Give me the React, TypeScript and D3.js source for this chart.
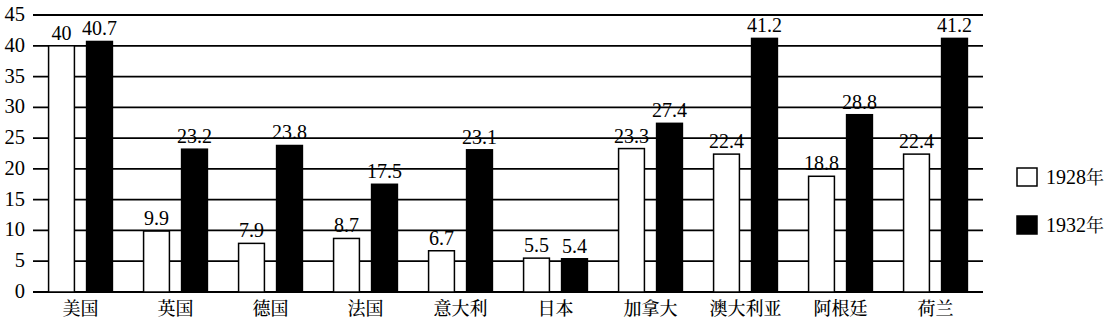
import React from "react";
import * as d3 from "d3";

const categories = ["美国", "英国", "德国", "法国", "意大利", "日本", "加拿大", "澳大利亚", "阿根廷", "荷兰"];
const series = ["1928年", "1932年"];
const values1928 = [40, 9.9, 7.9, 8.7, 6.7, 5.5, 23.3, 22.4, 18.8, 22.4];
const values1932 = [40.7, 23.2, 23.8, 17.5, 23.1, 5.4, 27.4, 41.2, 28.8, 41.2];
const yTicks = [0, 5, 10, 15, 20, 25, 30, 35, 40, 45];

const W = 1111;
const H = 323;
const left = 33;
const right = 983;
const top = 15;
const bottom = 292;

export default function App() {
  const x0 = d3.scaleBand<string>().domain(categories).range([left, right]).paddingInner(0).paddingOuter(0);
  const x1 = d3
    .scaleBand<string>()
    .domain(series)
    .range([0, x0.bandwidth()])
    .paddingInner(0.32)
    .paddingOuter(0.41);
  const y = d3.scaleLinear().domain([0, 45]).range([bottom, top]);
  const fills = ["#ffffff", "#000000"];
  const data = [values1928, values1932];
  const serif = '"Liberation Serif", "Times New Roman", serif';
  const cjk = '"Noto Serif CJK SC", "Noto Sans CJK SC", serif';

  return (
    <div style={{ position: "absolute", left: 0, top: 0 }}>
      <svg width={W} height={H} style={{ display: "block", background: "#fff" }}>
        {yTicks.map((t) => (
          <g key={t}>
            <line x1={left} x2={right} y1={y(t)} y2={y(t)} stroke="#000" strokeWidth={1.8} />
            <text x={25} y={y(t) + 6} textAnchor="end" fontFamily={serif} fontSize={20.5} fill="#000">
              {t}
            </text>
          </g>
        ))}
        {categories.map((c, i) => (
          <g key={c} transform={`translate(${x0(c)},0)`}>
            {series.map((s, si) => {
              const v = data[si][i];
              const bx = x1(s)!;
              return (
                <g key={s}>
                  <rect
                    x={bx}
                    y={y(v)}
                    width={x1.bandwidth()}
                    height={y(0) - y(v)}
                    fill={fills[si]}
                    stroke="#000"
                    strokeWidth={1.5}
                  />
                  <text
                    x={bx + x1.bandwidth() / 2}
                    y={y(v) - 6}
                    textAnchor="middle"
                    fontFamily={serif}
                    fontSize={20}
                    fill="#000"
                  >
                    {v}
                  </text>
                </g>
              );
            })}
            <text
              x={x0.bandwidth() / 2}
              y={315}
              textAnchor="middle"
              fontFamily={cjk}
              fontSize={18}
              fontWeight={500}
              fill="#000"
            >
              {c}
            </text>
          </g>
        ))}
        {series.map((s, si) => (
          <g key={s} transform={`translate(1017,${168 + si * 48})`}>
            <rect x={0} y={0} width={20} height={18} fill={fills[si]} stroke="#000" strokeWidth={1.5} />
            <text x={29} y={16} fontFamily={serif} fontSize={20} fill="#000">
              {s.replace("年", "")}
              <tspan fontFamily={cjk} fontSize={18}>年</tspan>
            </text>
          </g>
        ))}
      </svg>
    </div>
  );
}
